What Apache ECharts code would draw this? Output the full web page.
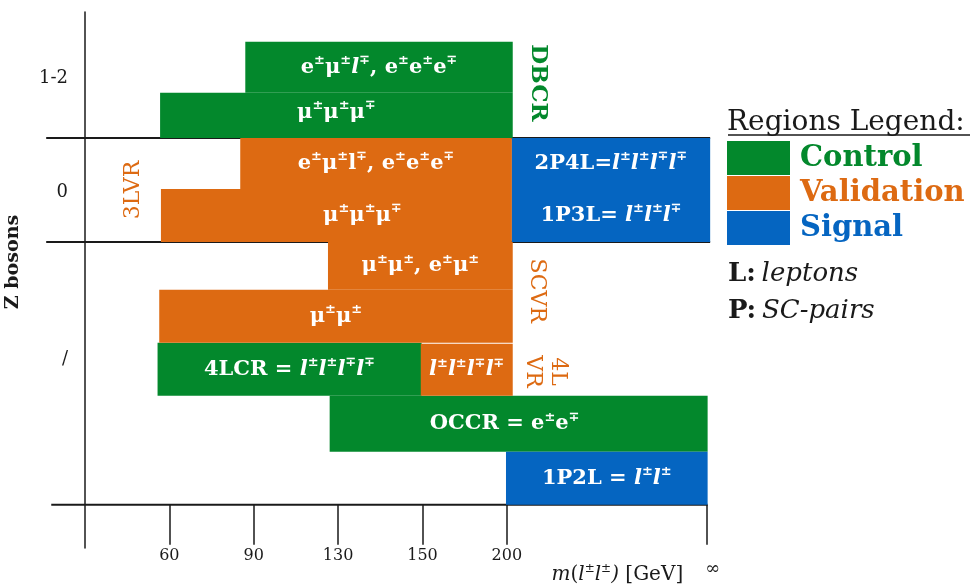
<!DOCTYPE html>
<html>
<head>
<meta charset="utf-8">
<script src="https://cdn.jsdelivr.net/npm/echarts@6/dist/echarts.min.js"></script>
<style>
  html, body { margin: 0; padding: 0; background: #fff; }
  #main { width: 977px; height: 587px; }
</style>
</head>
<body>
<div id="main"></div>
<script>
// x is measured in "mass bins": tick k sits on bin k, the open end (∞) past bin 7
const massTicks = ['60', '90', '130', '150', '200'];
const massTickBins = [1, 2, 3, 4, 5];
const infinityBin = 7.37;

// y is measured in region strips (rows), 0 = bottom line
const zLabels = ['/', '0', '1-2'];
const zLabelRows = [2.82, 6.08, 8.3];
const separatorRows = [0, 5.11, 7.13];
const separatorFrom = [-0.4, -0.46, -0.46];
const separatorTo = [7.38, 7.41, 7.41];

const kinds = ['Control', 'Validation', 'Signal'];
const kindColors = ['#03882c', '#dd6a12', '#0565c1'];

// regions: kind, bin range, row range, label
const regionKind = ['Control', 'Control', 'Validation', 'Validation', 'Signal', 'Signal',
  'Validation', 'Validation', 'Control', 'Validation', 'Control', 'Signal'];
const regionLo = [1.9, 0.89, 1.84, 0.9, 5.06, 5.06, 2.88, 0.88, 0.86, 3.98, 2.9, 4.99];
const regionHi = [5.07, 5.07, 5.06, 5.06, 7.41, 7.41, 5.07, 5.07, 3.99, 5.07, 7.38, 7.38];
const regionBottom = [8.01, 7.13, 6.14, 5.11, 6.14, 5.11, 4.18, 3.15, 2.12, 2.12, 1.03, 0];
const regionTop = [9.0, 8.01, 7.13, 6.14, 7.13, 6.14, 5.11, 4.18, 3.15, 3.13, 2.12, 1.03];
const regionText = [
  'e{s|±}μ{s|±}{i|l}{s|∓}, e{s|±}e{s|±}e{s|∓}',
  'μ{s|±}μ{s|±}μ{s|∓}',
  'e{s|±}μ{s|±}l{s|∓}, e{s|±}e{s|±}e{s|∓}',
  'μ{s|±}μ{s|±}μ{s|∓}',
  '2P4L={i|l}{s|±}{i|l}{s|±}{i|l}{s|∓}{i|l}{s|∓}',
  '1P3L= {i|l}{s|±}{i|l}{s|±}{i|l}{s|∓}',
  'μ{s|±}μ{s|±}, e{s|±}μ{s|±}',
  'μ{s|±}μ{s|±}',
  '4LCR = {i|l}{s|±}{i|l}{s|±}{i|l}{s|∓}{i|l}{s|∓}',
  '{i|l}{s|±}{i|l}{s|±}{i|l}{s|∓}{i|l}{s|∓}',
  'OCCR = e{s|±}e{s|∓}',
  '1P2L = {i|l}{s|±}{i|l}{s|±}'
];

// rotated region names beside the boxes
const sideText = ['DBCR', '3LVR', 'SCVR', '4L\nVR'];
const sideKind = [0, 1, 1, 1];
const sideBin = [5.37, 0.57, 5.36, 5.46];
const sideRow = [8.2, 6.12, 4.16, 2.59];

const FONT = 'DejaVu Serif';
const INK = '#1a1a1a';

// small label offsets in px (label not centred in its box)
const labelNudge = { 1: [0, -3], 3: [26, 0], 10: [-14, 0] };

const tok = (size, weight, style, extra) => Object.assign({
  fontFamily: FONT, fontSize: size, fontWeight: weight, fontStyle: style, fill: '#fff'
}, extra || {});

const labelRich = {
  s: tok(13, 'bold', 'normal', { verticalAlign: 'top', lineHeight: 14 }),
  i: tok(21, 'bold', 'italic', { lineHeight: 26 })
};

const renderRegion = (params, api) => {
  const i = api.value(4);
  const a = api.coord([api.value(0), api.value(3)]);
  const b = api.coord([api.value(1), api.value(2)]);
  const n = labelNudge[i] || [0, 0];
  return {
    type: 'group',
    children: [
      {
        type: 'rect',
        shape: { x: a[0], y: a[1], width: b[0] - a[0], height: b[1] - a[1] },
        style: { fill: api.visual('color') }
      },
      {
        type: 'text',
        x: (a[0] + b[0]) / 2 + n[0],
        y: (a[1] + b[1]) / 2 + n[1],
        style: Object.assign(tok(21, 'bold', 'normal'), {
          text: regionText[i], align: 'center', verticalAlign: 'middle',
          lineHeight: 26, rich: labelRich
        })
      }
    ]
  };
};

const regionSeries = kinds.map((kind, k) => ({
  name: kind,
  type: 'custom',
  itemStyle: { color: kindColors[k] },
  renderItem: renderRegion,
  encode: { x: [0, 1], y: [2, 3] },
  data: regionKind
    .map((rk, i) => rk === kind ? [regionLo[i], regionHi[i], regionBottom[i], regionTop[i], i] : null)
    .filter(d => d)
}));

const separatorSeries = {
  type: 'custom',
  silent: true,
  clip: false,
  renderItem: (params, api) => {
    const a = api.coord([api.value(0), api.value(1)]);
    const b = api.coord([api.value(2), api.value(1)]);
    return {
      type: 'line',
      shape: { x1: a[0], y1: a[1], x2: b[0], y2: b[1] },
      style: { stroke: INK, lineWidth: 2 }
    };
  },
  encode: { x: [0, 2], y: 1 },
  data: separatorRows.map((r, i) => [separatorFrom[i], r, separatorTo[i]])
};

const sideSeries = {
  type: 'custom',
  silent: true,
  clip: false,
  renderItem: (params, api) => {
    const i = api.value(2);
    const p = api.coord([api.value(0), api.value(1)]);
    const up = i === 1; // 3LVR reads bottom-to-top
    return {
      type: 'text',
      x: p[0],
      y: p[1],
      rotation: up ? Math.PI / 2 : -Math.PI / 2,
      style: {
        text: sideText[i],
        fill: kindColors[sideKind[i]],
        fontFamily: FONT,
        fontSize: i === 0 ? 23 : 22,
        fontWeight: i === 0 ? 'bold' : 'normal',
        lineHeight: 25,
        align: 'center',
        verticalAlign: 'middle'
      }
    };
  },
  encode: { x: 0, y: 1 },
  data: sideText.map((t, i) => [sideBin[i], sideRow[i], i])
};

// axis title under the axis, anchored in axis units
const massTitleSeries = {
  type: 'custom',
  silent: true,
  clip: false,
  renderItem: (params, api) => {
    const p = api.coord([api.value(0), api.value(1)]);
    return {
      type: 'text',
      x: p[0],
      y: p[1],
      style: {
        text: '{i|m}({i|l}{s|±}{i|l}{s|±}{i|)} [GeV]',
        fill: INK, fontFamily: FONT, fontSize: 20, lineHeight: 24,
        align: 'center', verticalAlign: 'middle',
        rich: {
          i: { fontFamily: FONT, fontSize: 20, fontStyle: 'italic', fill: INK, lineHeight: 24 },
          s: { fontFamily: FONT, fontSize: 12, fill: INK, verticalAlign: 'top', lineHeight: 13 }
        }
      }
    };
  },
  encode: { x: 0, y: 1 },
  data: [[6.31, -1.36]]
};

const chart = echarts.init(document.getElementById('main'));

chart.setOption({
  backgroundColor: '#fff',
  animation: false,
  textStyle: { fontFamily: FONT },
  grid: { left: 85, top: 12, width: 626, height: 536, outerBoundsMode: 'none', containLabel: false },
  title: [
    {
      text: 'Regions Legend:',
      left: 727,
      top: 109,
      padding: 0,
      textStyle: { fontFamily: FONT, fontSize: 28, fontWeight: 'normal', color: INK }
    },
    {
      text: '{b|L:} {it|leptons}\n{b|P:} {it|SC-pairs}',
      left: 728,
      top: 256,
      padding: 0,
      textStyle: {
        lineHeight: 37,
        fontWeight: 'normal',
        rich: {
          b: { fontFamily: FONT, fontSize: 26, fontWeight: 'bold', color: INK, lineHeight: 37 },
          it: { fontFamily: FONT, fontSize: 26, fontWeight: 'normal', fontStyle: 'italic', color: INK, lineHeight: 37 }
        }
      }
    }
  ],
  graphic: [
    {
      type: 'line',
      shape: { x1: 728, y1: 135, x2: 970, y2: 135 },
      style: { stroke: INK, lineWidth: 1.5 }
    }
  ],
  legend: {
    orient: 'vertical',
    left: 727,
    top: 141,
    padding: 0,
    icon: 'rect',
    itemWidth: 63,
    itemHeight: 34,
    itemGap: 1,
    selectedMode: false,
    data: kinds.map((k, i) => ({ name: k, textStyle: { color: kindColors[i] } })),
    textStyle: { fontFamily: FONT, fontSize: 29, fontWeight: 'bold', padding: [0, 0, 0, 5] }
  },
  xAxis: {
    type: 'value',
    min: 0,
    max: 7.42,
    axisLine: { show: false, onZero: true },
    splitLine: { show: false },
    axisTick: {
      customValues: massTickBins.concat([infinityBin]),
      length: 40,
      lineStyle: { color: INK, width: 1.5 }
    },
    axisLabel: {
      customValues: massTickBins.concat([infinityBin]),
      margin: 0,
      fontFamily: FONT,
      fontSize: 16,
      color: INK,
      formatter: (v) => {
        const k = massTickBins.findIndex(b => Math.abs(b - v) < 1e-6);
        return k >= 0 ? massTicks[k] : '{inf|∞}';
      },
      rich: {
        inf: { fontFamily: FONT, fontSize: 18, color: INK, padding: [12, 0, 0, 12] }
      }
    }
  },
  yAxis: {
    type: 'value',
    min: -0.84,
    max: 9.58,
    axisLine: { show: true, lineStyle: { color: INK, width: 1.5 } },
    axisTick: { show: false },
    splitLine: { show: false },
    axisLabel: {
      customValues: zLabelRows,
      margin: 17,
      fontFamily: FONT,
      fontSize: 18,
      color: INK,
      formatter: (v) => zLabels[zLabelRows.findIndex(r => Math.abs(r - v) < 1e-6)]
    },
    name: 'Z bosons',
    nameLocation: 'middle',
    nameRotate: 90,
    nameGap: 62,
    nameTextStyle: {
      fontFamily: FONT, fontSize: 19, fontWeight: 'bold', color: INK,
      padding: [0, 0, 0, 36]
    }
  },
  series: [separatorSeries].concat(regionSeries, [sideSeries, massTitleSeries])
});
</script>
</body>
</html>
